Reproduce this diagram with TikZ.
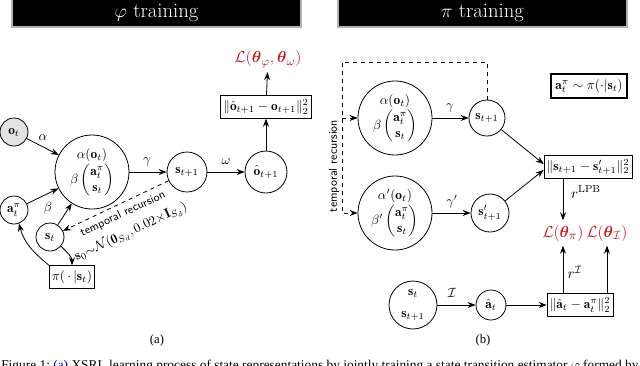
\documentclass[tikz,border=0pt]{standalone}
\usepackage{amsmath,amssymb}
\usepackage{graphicx}
\usepackage{fontspec}
\newfontfamily\capfont{Liberation Serif}
\usetikzlibrary{arrows.meta,calc}
\definecolor{lossred}{RGB}{196,28,36}
\definecolor{capblue}{RGB}{0,0,230}
\begin{document}
\begin{tikzpicture}[x=0.75pt,y=-0.75pt,
  every node/.style={font=\fontsize{10}{12}\selectfont},
  conn/.style={line width=0.6pt,-{Stealth[length=6pt,width=4.5pt,inset=2pt]}},
  st/.style={circle,draw,line width=0.6pt,inner sep=0pt},
  lossbox/.style={draw,line width=0.6pt,inner sep=2pt,minimum height=17pt},
  titlebar/.style={fill=black,draw=gray!60,line width=0.8pt},
  titletext/.style={text=white,font=\fontsize{15.5}{18}\selectfont},
  loss/.style={text=lossred,font=\fontsize{13}{15}\selectfont},
  rlbl/.style={font=\fontsize{11}{13}\selectfont},
  trec/.style={font=\sffamily\fontsize{8.7}{10}\selectfont},
  captext/.style={font=\capfont\fontsize{9.5}{11}\selectfont},
]
\useasboundingbox (0,0) rectangle (640,365);
\fill[white] (0,0) rectangle (640,365);

% ---------- title bars
\draw[titlebar] (12,-1) rectangle (301,27);
\node[titletext] (t1) at (156.5,13) {$\varphi$ training};
\draw[titlebar] (338,-1) rectangle (627,27);
\node[titletext] (t2) at (482.5,13) {$\pi$ training};

% ---------- (a) phi training
\node[st,fill=gray!22,minimum size=21pt] (ot) at (14,132) {$\mathbf{o}_t$};
\node[st,minimum size=55.5pt,align=center] (bigL) at (92,172)
  {$\alpha(\mathbf{o}_t)$\\[1pt]$\beta\begin{pmatrix}\mathbf{a}_t^{\pi}\\ \mathbf{s}_t\end{pmatrix}$};
\node[st,minimum size=30pt] (s1L) at (187,172) {$\mathbf{s}_{t+1}$};
\node[st,minimum size=31.5pt] (oh) at (266,172) {$\hat{\mathbf{o}}_{t+1}$};
\node[lossbox] (boxo) at (266,107) {$\|\hat{\mathbf{o}}_{t+1}-\mathbf{o}_{t+1}\|_2^2$};
\node[loss] (lphi) at (268,59) {$\mathcal{L}(\boldsymbol{\theta}_{\varphi},\boldsymbol{\theta}_{\omega})$};
\node[st,minimum size=21pt] (aL) at (14,210) {$\mathbf{a}_t^{\pi}$};
\node[st,minimum size=21pt] (stL) at (50,237) {$\mathbf{s}_t$};
\node[lossbox] (piL) at (72,277) {$\pi(\,\cdot\,|\mathbf{s}_t)$};

\draw[conn] (ot) -- (bigL);
\draw[conn] (aL) -- (bigL);
\draw[conn] (stL) -- (bigL);
\draw[conn] (bigL) -- (s1L);
\draw[conn] (s1L) -- (oh);
\draw[conn] (oh) -- (boxo);
\draw[conn] (boxo) -- (lphi);
\draw[conn,dashed] (s1L) -- (stL);
\draw[conn] (stL.-40) to[out=-45,in=90] (piL.north);
\draw[conn] (piL.north west) to[out=140,in=-75] (aL.-70);

\node (lalpha) at (43,138) {$\alpha$};
\node (lbeta) at (48,208) {$\beta$};
\node (lgamma) at (147,162) {$\gamma$};
\node (lomega) at (226,162) {$\omega$};
\node[trec,rotate=25] (ltr) at (123,214) {temporal recursion};
\node[rotate=25] (ls0) at (131,232) {$\mathbf{s}_0{\sim}\mathcal{N}(\mathbf{0}_{S_d},0.02{\times}\mathbf{I}_{S_d})$};

% ---------- (b) pi training
\node[st,minimum size=55.5pt,align=center] (bigR) at (395,118)
  {$\alpha(\mathbf{o}_t)$\\[1pt]$\beta\begin{pmatrix}\mathbf{a}_t^{\pi}\\ \mathbf{s}_t\end{pmatrix}$};
\node[st,minimum size=27pt] (s1R) at (487,118) {$\mathbf{s}_{t+1}$};
\node[st,minimum size=55.5pt,align=center] (bigP) at (395,213)
  {$\alpha'(\mathbf{o}_t)$\\[1pt]$\beta'\begin{pmatrix}\mathbf{a}_t^{\pi}\\ \mathbf{s}_t\end{pmatrix}$};
\node[st,minimum size=28.5pt] (spR) at (490,213) {$\mathbf{s}'_{t+1}$};
\node[lossbox] (boxs) at (588,167) {$\|\mathbf{s}_{t+1}-\mathbf{s}'_{t+1}\|_2^2$};
\node[draw,line width=1.5pt,inner sep=3pt,minimum height=18pt] (apol) at (589,86)
  {$\mathbf{a}_t^{\pi}\sim\pi(\cdot|\mathbf{s}_t)$};
\node[loss] (lpi) at (563,233) {$\mathcal{L}(\boldsymbol{\theta}_{\pi})$};
\node[loss] (lI) at (607,233) {$\mathcal{L}(\boldsymbol{\theta}_{\mathcal{I}})$};
\node[st,minimum size=36pt,align=center] (ss) at (413,305) {$\mathbf{s}_t$\\[4pt]$\mathbf{s}_{t+1}$};
\node[st,minimum size=22.5pt] (ah) at (491,305) {$\hat{\mathbf{a}}_t$};
\node[lossbox] (boxa) at (580,305) {$\|\hat{\mathbf{a}}_t-\mathbf{a}_t^{\pi}\|_2^2$};

\draw[conn] (bigR) -- (s1R);
\draw[conn] (bigP) -- (spR);
\draw[conn] (s1R) -- ($(boxs.west)+(0,-3)$);
\draw[conn] (spR) -- ($(boxs.west)+(0,3)$);
\draw[conn] (lpi.north |- boxs.south) -- (lpi.north);
\draw[conn] (lpi.south |- boxa.north) -- (lpi.south);
\draw[conn] (lI.south |- boxa.north) -- (lI.south);
\draw[conn] (ss) -- (ah);
\draw[conn] (ah) -- (boxa);

\coordinate (dtop) at (342,62);
\coordinate (dl1) at (342,118);
\draw[conn,dashed] (s1R.north) |- (dtop) |- (bigP.west);
\draw[conn,dashed] (dl1) -- (bigR.west);
\node[trec,rotate=90] (ltr2) at (334,166) {temporal recursion};

\node (lg1) at (450,108) {$\gamma$};
\node (lg2) at (452,202) {$\gamma'$};
\node[rlbl] (llpb) at (586,192) {$r^{\mathrm{LPB}}$};
\node[rlbl] (lri) at (575,272) {$r^{\mathcal{I}}$};
\node (lI2) at (452,293) {$\mathcal{I}$};

% ---------- captions
\node[captext] (ca) at (157,340) {(a)};
\node[captext] (cb) at (483,340) {(b)};
\node[anchor=base west,inner sep=0pt] (cap) at (1,369)
  {\resizebox{478pt}{!}{\capfont\fontsize{9}{11}\selectfont Figure 1:\ \textcolor{capblue}{(a)} XSRL learning process of state representations by jointly training a state transition estimator $\varphi$ formed by}};
\end{tikzpicture}
\end{document}
